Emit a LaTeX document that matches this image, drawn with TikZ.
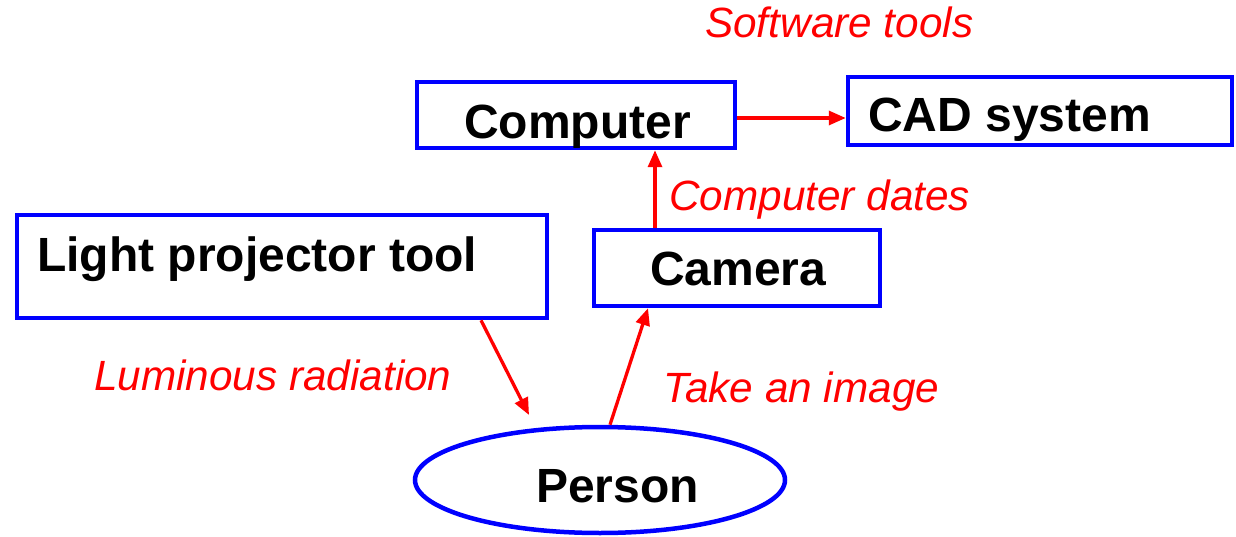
\documentclass[tikz,border=0pt]{standalone}
\usepackage{fontspec}
\setmainfont{Liberation Sans}
\usetikzlibrary{arrows.meta,shapes.geometric}
\definecolor{boxblue}{RGB}{0,0,255}
\definecolor{lblred}{RGB}{255,0,0}
\begin{document}
\begin{tikzpicture}[x=1pt,y=-1pt,
  box/.style={draw=boxblue,line width=4.5pt,rectangle,inner sep=0pt},
  oval/.style={draw=boxblue,line width=4.5pt,ellipse,inner sep=0pt},
  btext/.style={inner sep=0pt,anchor=base west,font=\fontsize{48}{56}\selectfont\bfseries},
  rtext/.style={inner sep=0pt,anchor=base west,text=lblred,font=\fontsize{42.3}{50}\selectfont\itshape},
  arr/.style={draw=lblred,line width=3.3pt,-{Triangle[length=17pt,width=14pt]}}]
\useasboundingbox (0,0) rectangle (1236,537);
% boxes
\node[box,minimum width=318pt,minimum height=66pt] (computer) at (576,115) {};
\node[box,minimum width=384pt,minimum height=68pt] (cad) at (1040,111) {};
\node[box,minimum width=530pt,minimum height=103pt] (light) at (282,266.5) {};
\node[box,minimum width=286pt,minimum height=76pt] (camera) at (737,268) {};
\node[oval,minimum width=370pt,minimum height=106pt] (person) at (600,480) {};
% box texts
\node[btext] (computert) at (464,139) {Computer};
\node[btext] (cadt) at (868,132) {CAD system};
\node[btext] (lightt) at (37,272) {Light projector tool};
\node[btext] (camerat) at (650,285) {Camera};
\node[btext] (persont) at (536,502) {Person};
% red labels
\node[rtext] (soft) at (705,38) {Software tools};
\node[rtext] (dates) at (669,211) {Computer dates};
\node[rtext] (lum) at (94,390) {Luminous radiation};
\node[rtext] (take) at (663,402) {Take an image};
% helper coordinates
\coordinate (cx) at (655,0);
\coordinate (lx) at (481,0);
\coordinate (lp) at (529,415);
\coordinate (px) at (648,0);
% connectors
\draw[arr] ([yshift=-3pt]computer.east) -- ([yshift=-7pt]cad.west);
\draw[arr] (camera.north -| cx) -- (computer.south -| cx);
\draw[arr] (light.south -| lx) -- (lp);
\draw[arr] ([xshift=10pt]person.north) -- (camera.south -| px);
\end{tikzpicture}
\end{document}
